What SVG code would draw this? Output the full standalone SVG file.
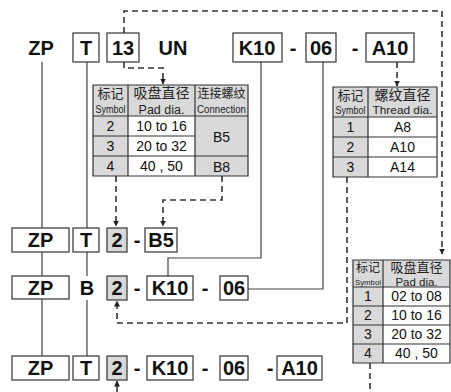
<svg xmlns="http://www.w3.org/2000/svg" width="451" height="392" viewBox="0 0 451 392">
<defs>
<marker id="ah" viewBox="0 0 6 6" refX="5.5" refY="3" markerWidth="6" markerHeight="6" markerUnits="userSpaceOnUse" orient="auto">
<path d="M0,0 L6,3 L0,6 z" fill="#222"/>
</marker>
<style>
.code{font-family:"Liberation Sans",Arial,sans-serif;font-weight:bold;font-size:20px;fill:#111;text-anchor:middle}
.box{fill:#fff;stroke:#333;stroke-width:1.2}
.gbox{fill:#d9d9d9;stroke:#333;stroke-width:1.2}
.ln{fill:none;stroke:#444;stroke-width:1.2}
.dash{fill:none;stroke:#333;stroke-width:1.6;stroke-dasharray:6,4}
.g{fill:#d9d9d9}
.w{fill:#fff}
.tl{stroke:#333;stroke-width:1.2;fill:none}
.cn{font-family:"Noto Sans CJK SC","Liberation Sans",sans-serif;fill:#222;text-anchor:middle}
.en{font-family:"Liberation Sans",Arial,sans-serif;fill:#222;text-anchor:middle}
.val{font-family:"Liberation Sans",Arial,sans-serif;fill:#111;text-anchor:middle;font-size:14px}
</style>
</defs>

<g id="connectors">
<path class="ln" d="M42,62 V228 M42,252 V276 M42,299 V356"/>
<path class="ln" d="M87,62 V228 M87,252 V276 M87,300 V356"/>
<path class="ln" d="M261,62 V258 H168 V276"/>
<path class="ln" d="M323,62 V289 H248"/>
<path class="dash" d="M124,33 V11 H442 V254" marker-end="url(#ah)"/>
<path class="dash" d="M124,62 V68 H163 V84" marker-end="url(#ah)"/>
<path class="dash" d="M397,62 V86" marker-end="url(#ah)"/>
<path class="dash" d="M116,176 V226" marker-end="url(#ah)"/>
<path class="dash" d="M222,176 V200 H163 V226" marker-end="url(#ah)"/>
<path class="dash" d="M347,177 V323 H117 V301" marker-end="url(#ah)"/>
<path class="dash" d="M370,363 V392"/>
<path class="dash" d="M117,392 V381" marker-end="url(#ah)"/>
</g>

<g id="row1">
<text class="code" x="41" y="55">ZP</text>
<rect class="box" x="73" y="33" width="26" height="29"/>
<text class="code" x="86" y="55">T</text>
<rect class="box" x="107" y="33" width="32" height="29"/>
<text class="code" x="123" y="55">13</text>
<text class="code" x="173" y="55">UN</text>
<rect class="box" x="233" y="33" width="49" height="29"/>
<text class="code" x="257" y="55">K10</text>
<text class="code" x="293" y="55">-</text>
<rect class="box" x="306" y="33" width="30" height="29"/>
<text class="code" x="321" y="55">06</text>
<text class="code" x="355" y="55">-</text>
<rect class="box" x="366" y="33" width="48" height="29"/>
<text class="code" x="390" y="55">A10</text>
</g>

<g id="table-pad-connection">
<rect class="g" x="93" y="85" width="155" height="91"/>
<rect class="w" x="128" y="116" width="67" height="60"/>
<path class="tl" d="M93,85 H248 V176 H93 Z M93,116 H248 M93,136 H195 M93,156 H248 M128,85 V176 M195,85 V176"/>
<text class="cn" x="110.5" y="98" font-size="13">标记</text>
<text class="en" x="110.5" y="113" font-size="10" textLength="30" lengthAdjust="spacingAndGlyphs">Symbol</text>
<text class="cn" x="161.5" y="98" font-size="14">吸盘直径</text>
<text class="en" x="161.5" y="114" font-size="12.5">Pad dia.</text>
<text class="cn" x="221.5" y="98" font-size="12">连接螺纹</text>
<text class="en" x="221.5" y="113" font-size="10" textLength="49" lengthAdjust="spacingAndGlyphs">Connection</text>
<text class="val" x="110.5" y="131">2</text>
<text class="val" x="161.5" y="131">10 to 16</text>
<text class="val" x="110.5" y="151">3</text>
<text class="val" x="161.5" y="151">20 to 32</text>
<text class="val" x="110.5" y="171">4</text>
<text class="val" x="161.5" y="171">40 , 50</text>
<text class="val" x="221.5" y="142">B5</text>
<text class="val" x="221.5" y="172">B8</text>
</g>

<g id="table-thread">
<rect class="g" x="333" y="87" width="104" height="90"/>
<rect class="w" x="368" y="117" width="69" height="60"/>
<path class="tl" d="M333,87 H437 V177 H333 Z M333,117 H437 M333,137 H437 M333,157 H437 M368,87 V177"/>
<text class="cn" x="350.5" y="100" font-size="13">标记</text>
<text class="en" x="350.5" y="114" font-size="10" textLength="30" lengthAdjust="spacingAndGlyphs">Symbol</text>
<text class="cn" x="402.5" y="100" font-size="14">螺纹直径</text>
<text class="en" x="402.5" y="114" font-size="11" textLength="60" lengthAdjust="spacingAndGlyphs">Thread dia.</text>
<text class="val" x="350.5" y="132">1</text>
<text class="val" x="402.5" y="132">A8</text>
<text class="val" x="350.5" y="152">2</text>
<text class="val" x="402.5" y="152">A10</text>
<text class="val" x="350.5" y="172">3</text>
<text class="val" x="402.5" y="172">A14</text>
</g>

<g id="table-pad">
<rect class="g" x="353" y="260" width="97" height="103"/>
<rect class="w" x="383" y="287" width="67" height="76"/>
<path class="tl" d="M353,260 H450 V363 H353 Z M353,287 H450 M353,306 H450 M353,325 H450 M353,344 H450 M383,260 V363"/>
<text class="cn" x="368" y="272" font-size="12">标记</text>
<text class="en" x="368" y="285" font-size="8" textLength="26" lengthAdjust="spacingAndGlyphs">Symbol</text>
<text class="cn" x="416.5" y="272" font-size="13">吸盘直径</text>
<text class="en" x="416.5" y="286" font-size="11.5">Pad dia.</text>
<text class="val" x="368" y="301">1</text>
<text class="val" x="416.5" y="301">02 to 08</text>
<text class="val" x="368" y="320">2</text>
<text class="val" x="416.5" y="320">10 to 16</text>
<text class="val" x="368" y="339">3</text>
<text class="val" x="416.5" y="339">20 to 32</text>
<text class="val" x="368" y="358">4</text>
<text class="val" x="416.5" y="358">40 , 50</text>
</g>

<g id="row2">
<rect class="box" x="12" y="228" width="57" height="24"/>
<text class="code" x="40.5" y="247">ZP</text>
<rect class="box" x="73" y="228" width="26" height="24"/>
<text class="code" x="86" y="247">T</text>
<rect class="gbox" x="107" y="228" width="20" height="24"/>
<text class="code" x="117" y="247">2</text>
<text class="code" x="137" y="247">-</text>
<rect class="box" x="145" y="228" width="32" height="24"/>
<text class="code" x="161" y="247">B5</text>
</g>

<g id="row3">
<rect class="box" x="12" y="276" width="57" height="23"/>
<text class="code" x="40.5" y="295">ZP</text>
<text class="code" x="87" y="295">B</text>
<rect class="gbox" x="107" y="276" width="20" height="24"/>
<text class="code" x="117" y="295">2</text>
<text class="code" x="137" y="295">-</text>
<rect class="box" x="147" y="276" width="46" height="24"/>
<text class="code" x="170" y="295">K10</text>
<text class="code" x="205" y="295">-</text>
<rect class="box" x="220" y="276" width="28" height="24"/>
<text class="code" x="234" y="295">06</text>
</g>

<g id="row4">
<rect class="box" x="12" y="356" width="57" height="24"/>
<text class="code" x="40.5" y="375">ZP</text>
<rect class="box" x="73" y="356" width="26" height="24"/>
<text class="code" x="86" y="375">T</text>
<rect class="gbox" x="107" y="356" width="20" height="24"/>
<text class="code" x="117" y="375">2</text>
<text class="code" x="137" y="375">-</text>
<rect class="box" x="147" y="356" width="46" height="24"/>
<text class="code" x="170" y="375">K10</text>
<text class="code" x="205" y="375">-</text>
<rect class="box" x="220" y="356" width="28" height="24"/>
<text class="code" x="234" y="375">06</text>
<text class="code" x="270" y="375">-</text>
<rect class="box" x="277" y="356" width="45" height="24"/>
<text class="code" x="299.5" y="375">A10</text>
</g>
</svg>
